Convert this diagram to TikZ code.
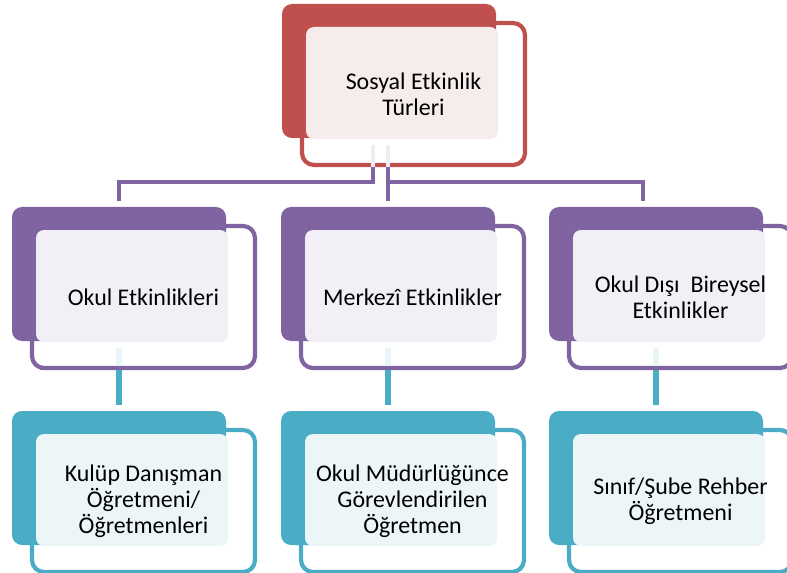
\documentclass[tikz,border=0pt]{standalone}
\usepackage{fontspec}
\setmainfont{Carlito}
\definecolor{cred}{HTML}{C0504D}
\definecolor{cpur}{HTML}{8064A2}
\definecolor{cteal}{HTML}{4BACC6}
\definecolor{pred}{HTML}{F6ECEC}
\definecolor{ppur}{HTML}{F2F0F6}
\definecolor{pteal}{HTML}{ECF5F8}
\newcommand{\unitbox}[6]{%
  % #1 name, #2 x0, #3 y0, #4 color, #5 panel color, #6 text
  \draw[outlinebox, draw=#4] (#2+20,#3+19) rectangle (#2+243,#3+161);
  \fill[darkbox, fill=#4] (#2,#3) rectangle (#2+214,#3+134);
  \fill[panelbox, fill=#5] (#2+24,#3+23) rectangle (#2+216,#3+135);
  \node[boxtext] (#1) at (#2+131.5,#3+90) {#6};
}
\begin{document}
\begin{tikzpicture}[x=1bp,y=-1bp,
  outlinebox/.style={line width=4.2bp, fill=white, rounded corners=12bp},
  darkbox/.style={rounded corners=10bp},
  panelbox/.style={rounded corners=8bp},
  boxtext/.style={align=center, font=\fontsize{24}{26}\selectfont, inner sep=0pt},
  purline/.style={draw=cpur, line width=4.5bp},
  tealline/.style={draw=cteal, line width=6bp},
  faintpur/.style={draw=cpur!12, line width=4.5bp},
  faintteal/.style={draw=cteal!12, line width=6bp}
]
\useasboundingbox (0,0) rectangle (787,573);
% top box
\unitbox{top}{282}{4}{cred}{pred}{Sosyal Etkinlik\\Türleri}
% connectors from top
\coordinate (ta) at (373,145);
\coordinate (tb) at (388,145);
\coordinate (ta2) at (373,167);
\coordinate (tb2) at (388,167);
\coordinate (ja) at (373,182);
\coordinate (jb) at (388,182);
\coordinate (la) at (119,182);
\coordinate (le) at (119,201);
\coordinate (me) at (388,201);
\coordinate (rc) at (643,182);
\coordinate (re) at (643,201);
\draw[faintpur] (ta) -- (ta2);
\draw[faintpur] (tb) -- (tb2);
\draw[purline] (ta2) -- (ja) -- (la) -- (le);
\draw[purline] (tb2) -- (me);
\draw[purline] (jb) -- (rc) -- (re);
% middle row
\unitbox{m1}{12}{207}{cpur}{ppur}{Okul Etkinlikleri}
\unitbox{m2}{281}{207}{cpur}{ppur}{Merkezî Etkinlikler}
\unitbox{m3}{549}{207}{cpur}{ppur}{Okul Dışı\ \ Bireysel\\Etkinlikler}
% connectors middle to bottom
\coordinate (a1) at (119,348);
\coordinate (a2) at (119,366);
\coordinate (a3) at (119,405);
\coordinate (b1) at (388,348);
\coordinate (b2) at (388,366);
\coordinate (b3) at (388,405);
\coordinate (c1) at (656,348);
\coordinate (c2) at (656,366);
\coordinate (c3) at (656,405);
\draw[faintteal] (a1) -- (a2);
\draw[faintteal] (b1) -- (b2);
\draw[faintteal] (c1) -- (c2);
\draw[tealline] (a2) -- (a3);
\draw[tealline] (b2) -- (b3);
\draw[tealline] (c2) -- (c3);
% redraw the purple borders over teal line starts
\draw[cpur, line width=4.2bp] (40,368) -- (240,368);
\draw[cpur, line width=4.2bp] (310,368) -- (510,368);
\draw[cpur, line width=4.2bp] (580,368) -- (780,368);
% bottom row
\unitbox{b1n}{12}{411}{cteal}{pteal}{Kulüp Danışman\\Öğretmeni/\\Öğretmenleri}
\unitbox{b2n}{281}{411}{cteal}{pteal}{Okul Müdürlüğünce\\Görevlendirilen\\Öğretmen}
\unitbox{b3n}{549}{411}{cteal}{pteal}{Sınıf/Şube Rehber\\Öğretmeni}
\end{tikzpicture}
\end{document}
